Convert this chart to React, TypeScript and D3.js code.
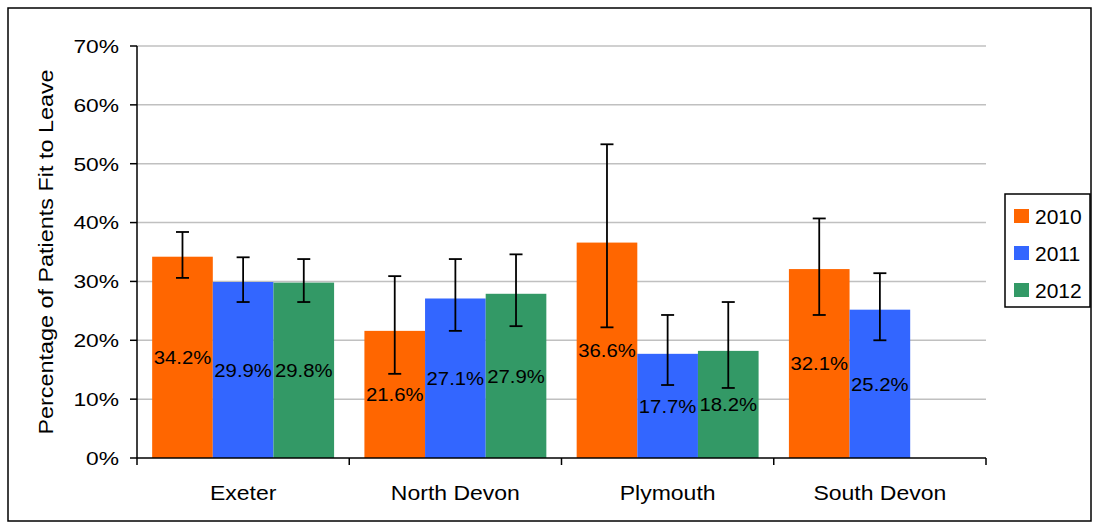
import React from "react";
import * as d3 from "d3";

const categories = ["Exeter", "North Devon", "Plymouth", "South Devon"];
const years = ["2010", "2011", "2012"];
const colors = ["#FF6600", "#3366FF", "#339966"];
const values2010 = [34.2, 21.6, 36.6, 32.1];
const values2011 = [29.9, 27.1, 17.7, 25.2];
const values2012: (number | null)[] = [29.8, 27.9, 18.2, null];
const lower2010 = [30.6, 14.3, 22.2, 24.3];
const upper2010 = [38.4, 30.9, 53.3, 40.7];
const lower2011 = [26.5, 21.6, 12.4, 20.0];
const upper2011 = [34.1, 33.8, 24.3, 31.4];
const lower2012: (number | null)[] = [26.5, 22.4, 11.9, null];
const upper2012: (number | null)[] = [33.8, 34.6, 26.5, null];
const yTicks = [0, 10, 20, 30, 40, 50, 60, 70];

const series = [
  { year: years[0], values: values2010, lower: lower2010, upper: upper2010, color: colors[0] },
  { year: years[1], values: values2011, lower: lower2011, upper: upper2011, color: colors[1] },
  { year: years[2], values: values2012, lower: lower2012, upper: upper2012, color: colors[2] },
];

export default function App() {
  const W = 1095, H = 525;
  const left = 137, right = 986, top = 46, bottom = 458;
  const font = "Arial, 'Liberation Sans', sans-serif";
  const x0 = d3.scaleBand<string>().domain(categories).range([left, right]).paddingInner(0).paddingOuter(0);
  const bw = x0.bandwidth();
  const groupW = bw * (3 / 3.5);
  const x1 = d3.scaleBand<string>().domain(years).range([0, groupW]).padding(0);
  const y = d3.scaleLinear().domain([0, 70]).range([bottom, top]);
  const capHalf = 6.5;

  return (
    <svg width={W} height={H} style={{ position: "absolute", left: 0, top: 0, background: "#fff" }} fontFamily={font}>
      <rect x={8} y={8} width={1083} height={513} fill="#fff" stroke="#000" strokeWidth={1.5} />
      {yTicks.map((t) => (
        <g key={t}>
          {t > 0 && <line x1={left} x2={right} y1={y(t)} y2={y(t)} stroke="#c0c0c0" strokeWidth={1.5} />}
          <line x1={left - 7} x2={left} y1={y(t)} y2={y(t)} stroke="#000" strokeWidth={1.5} />
          <text transform={`translate(${left - 18},${y(t)}) scale(1.2,1)`} dy="0.36em" textAnchor="end" fontSize={19} fill="#000">{t}%</text>
        </g>
      ))}
      {series.map((s) =>
        categories.map((c, i) => {
          const v = s.values[i];
          if (v == null) return null;
          const bx = (x0(c) as number) + (bw - groupW) / 2 + (x1(s.year) as number);
          const w = x1.bandwidth();
          return (
            <rect key={s.year + c} x={bx} y={y(v)} width={w} height={y(0) - y(v)} fill={s.color} />
          );
        })
      )}
      <line x1={left} x2={left} y1={top} y2={bottom} stroke="#000" strokeWidth={1.5} />
      <line x1={left} x2={right} y1={bottom} y2={bottom} stroke="#000" strokeWidth={1.5} />
      {[...categories.map((c) => x0(c) as number), right].map((tx, i) => (
        <line key={i} x1={tx} x2={tx} y1={bottom} y2={bottom + 7} stroke="#000" strokeWidth={1.5} />
      ))}
      {series.map((s) =>
        categories.map((c, i) => {
          const v = s.values[i];
          const lo = s.lower[i];
          const hi = s.upper[i];
          if (v == null || lo == null || hi == null) return null;
          const cx = (x0(c) as number) + (bw - groupW) / 2 + (x1(s.year) as number) + x1.bandwidth() / 2;
          return (
            <g key={"e" + s.year + c} stroke="#000" strokeWidth={1.8}>
              <line x1={cx} x2={cx} y1={y(hi)} y2={y(lo)} />
              <line x1={cx - capHalf} x2={cx + capHalf} y1={y(hi)} y2={y(hi)} />
              <line x1={cx - capHalf} x2={cx + capHalf} y1={y(lo)} y2={y(lo)} />
            </g>
          );
        })
      )}
      {series.map((s) =>
        categories.map((c, i) => {
          const v = s.values[i];
          if (v == null) return null;
          const cx = (x0(c) as number) + (bw - groupW) / 2 + (x1(s.year) as number) + x1.bandwidth() / 2;
          return (
            <text key={"l" + s.year + c} transform={`translate(${cx},${y(v / 2)}) scale(1.07,1)`} dy="0.36em" textAnchor="middle" fontSize={19} fill="#000">
              {v.toFixed(1)}%
            </text>
          );
        })
      )}
      {categories.map((c) => (
        <text key={c} transform={`translate(${(x0(c) as number) + bw / 2},493) scale(1.15,1)`} dy="0.36em" textAnchor="middle" fontSize={20} fill="#000">
          {c}
        </text>
      ))}
      <text transform={`translate(46,${(top + bottom) / 2}) rotate(-90) scale(1.17,1)`} textAnchor="middle" dy="0.36em" fontSize={20} fill="#000">
        Percentage of Patients Fit to Leave
      </text>
      <rect x={1005} y={194} width={85} height={113} fill="#fff" stroke="#000" strokeWidth={1.5} />
      {series.map((s, i) => (
        <g key={"lg" + s.year}>
          <rect x={1014} y={209 + i * 37} width={15} height={14} fill={s.color} />
          <text x={1035} y={216 + i * 37} dy="0.36em" fontSize={21} fill="#000">{s.year}</text>
        </g>
      ))}
    </svg>
  );
}
